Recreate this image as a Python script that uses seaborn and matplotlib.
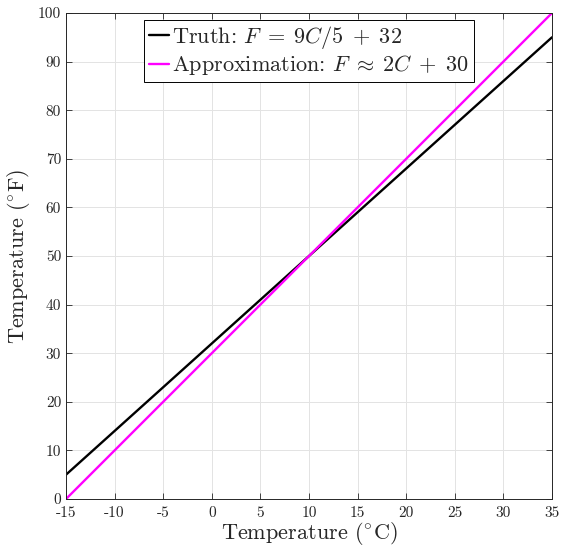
import numpy as np
import pandas as pd
import matplotlib
matplotlib.use("Agg")
import matplotlib.pyplot as plt
import seaborn as sns

# Datos: temperatura en Celsius y las dos conversiones
celsius = [-15, 35]
truth_f = [5, 95]
approx_f = [0, 100]
x_ticks = [-15, -10, -5, 0, 5, 10, 15, 20, 25, 30, 35]
y_ticks = [0, 10, 20, 30, 40, 50, 60, 70, 80, 90, 100]

df = pd.DataFrame({"C": celsius, "Truth": truth_f, "Approx": approx_f})

sns.set_style("ticks")
plt.rcParams["font.family"] = "serif"
plt.rcParams["font.serif"] = ["cmr10"]
plt.rcParams["mathtext.fontset"] = "cm"
plt.rcParams["axes.formatter.use_mathtext"] = True

fig = plt.figure(figsize=(5.62, 5.49), dpi=100)
ax = fig.add_axes([66 / 562, 50 / 549, 486 / 562, 486 / 549])

sns.lineplot(data=df, x="C", y="Truth", color="black", lw=1.7,
             label=r"Truth: $F\;=\;9C/5\;+\;32$", ax=ax)
sns.lineplot(data=df, x="C", y="Approx", color="#ff00ff", lw=1.7,
             label=r"Approximation: $F\;\approx\;2C\;+\;30$", ax=ax)

ax.set_xlim(-15, 35)
ax.set_ylim(0, 100)
ax.set_xticks(x_ticks)
ax.set_xticklabels([str(t) for t in x_ticks])
ax.set_yticks(y_ticks)
ax.set_yticklabels([str(t) for t in y_ticks])
ax.tick_params(direction="in", top=True, right=True, labelsize=11,
               color="#262626", length=4, width=0.6)
ax.tick_params(axis="x", pad=5.5)
ax.grid(True, color="#e3e3e3", lw=0.7)
for s in ax.spines.values():
    s.set_color("#262626")
    s.set_linewidth(0.7)

ax.set_xlabel(r"Temperature ($^{\circ}$C)", fontsize=16, labelpad=0)
ax.set_ylabel(r"Temperature ($^{\circ}$F)", fontsize=16)

leg = ax.legend(loc="upper center", fontsize=16, fancybox=False,
                framealpha=1, edgecolor="black", handlelength=0.9,
                handletextpad=0.15, borderpad=0.2, labelspacing=0.1,
                borderaxespad=0.3)
leg.get_frame().set_linewidth(0.7)

fig.savefig("out.png", dpi=100)
